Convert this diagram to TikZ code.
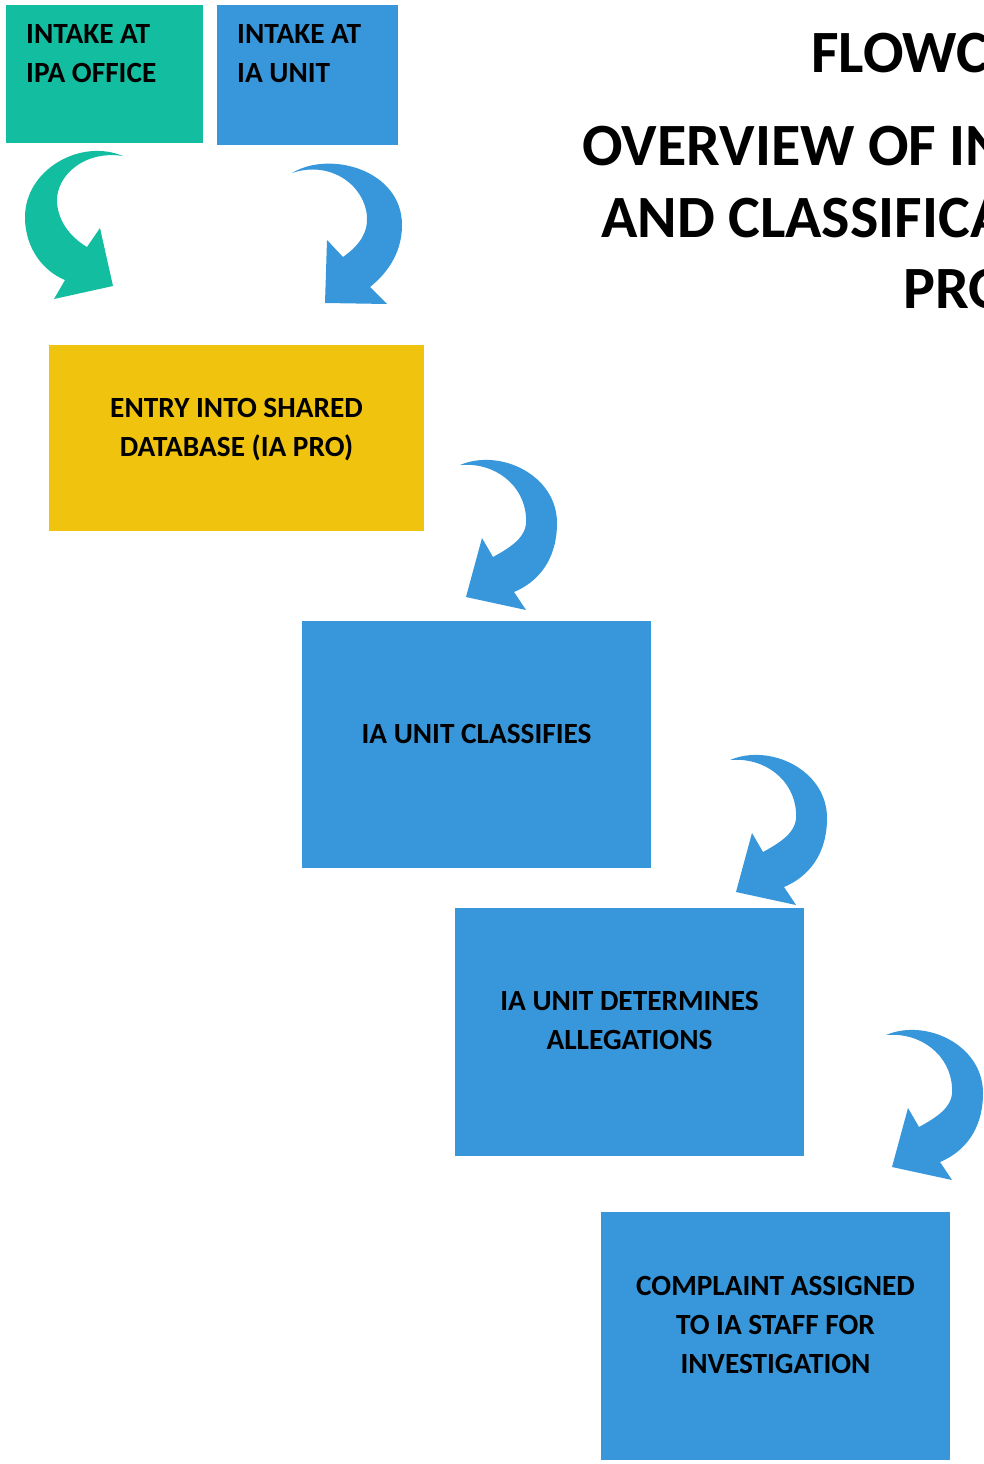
\documentclass[tikz,border=0pt]{standalone}
\usepackage{fontspec}
\setmainfont{Carlito}
\definecolor{iateal}{RGB}{18,189,160}
\definecolor{iablue}{RGB}{55,151,218}
\definecolor{iayellow}{RGB}{240,195,15}
\tikzset{
  box/.style={rectangle, inner sep=0pt, draw=none},
  boxtext/.style={inner sep=0pt, font=\fontsize{29.3}{38.6}\selectfont\bfseries, text=black},
  titletext/.style={inner sep=0pt, anchor=base west, font=\fontsize{60}{72}\selectfont\bfseries, text=black},
  curlarrow/.pic={
    \fill[iablue] (0,5) .. controls (40,-12) and (97,15) .. (97,63)
      .. controls (97,100) and (78,122) .. (54,132) -- (66,150) -- (6,137)
      -- (22,78) -- (33,97) .. controls (55,85) and (68,75) .. (66,57)
      .. controls (64,25) and (35,2) .. cycle;
  }
}
\begin{document}
\begin{tikzpicture}[x=1pt,y=-1pt]
\useasboundingbox (0,0) rectangle (984,1464);
\clip (0,0) rectangle (984,1464);
% boxes
\fill[iateal] (6,5) rectangle (203,143);
\node[box, minimum width=197pt, minimum height=138pt] (ipa) at (104.5,74) {};
\fill[iablue] (217,5) rectangle (398,145);
\node[box, minimum width=181pt, minimum height=140pt] (iaunit) at (307.5,75) {};
\fill[iayellow] (49,345) rectangle (424,531);
\node[box, minimum width=375pt, minimum height=186pt] (entry) at (236.5,438) {};
\fill[iablue] (302,621) rectangle (651,868);
\node[box, minimum width=349pt, minimum height=247pt] (classify) at (476.5,744.5) {};
\fill[iablue] (455,908) rectangle (804,1156);
\node[box, minimum width=349pt, minimum height=248pt] (determine) at (629.5,1032) {};
\fill[iablue] (601,1212) rectangle (950,1460);
\node[box, minimum width=349pt, minimum height=248pt] (assign) at (775.5,1336) {};
% texts
\node[boxtext, anchor=north west, align=left] (ipatext) at (26,24.5) {INTAKE AT\\IPA OFFICE};
\node[boxtext, anchor=north west, align=left] (iaunittext) at (237,24.5) {INTAKE AT\\IA UNIT};
\node[boxtext, anchor=north, align=center] (entrytext) at (236.5,398.5) {ENTRY INTO SHARED\\DATABASE (IA PRO)};
\node[boxtext, anchor=north, align=center] (classifytext) at (476.5,724.5) {IA UNIT CLASSIFIES};
\node[boxtext, anchor=north, align=center] (determinetext) at (629.5,991.5) {IA UNIT DETERMINES\\ALLEGATIONS};
\node[boxtext, anchor=north, align=center] (assigntext) at (775.5,1276.5) {COMPLAINT ASSIGNED\\TO IA STAFF FOR\\INVESTIGATION};
% title (cut at right edge, as in the reference)
\node[titletext] (t1) at (811,72) {FLOWC};
\node[titletext] (t2) at (582,165) {OVERVIEW OF IN};
\node[titletext] (t3) at (601,237) {AND CLASSIFICA};
\node[titletext] (t4) at (903,308) {PRO};
% curved arrows
\fill[iateal] (123,156) .. controls (80,138) and (25,170) .. (25,217)
  .. controls (25,250) and (45,272) .. (65,280) -- (54,299) -- (113,286)
  -- (100,228) -- (87,247) .. controls (70,237) and (57,220) .. (57,200)
  .. controls (57,175) and (85,150) .. cycle;
\fill[iablue] (292,173) .. controls (330,150) and (402,170) .. (402,225)
  .. controls (402,255) and (385,275) .. (370,287) -- (387,304) -- (325,303)
  -- (327,240) -- (343,257) .. controls (360,245) and (368,232) .. (367,217)
  .. controls (365,185) and (330,160) .. cycle;
\pic at (460,460) {curlarrow};
\pic at (730,755) {curlarrow};
\pic at (886,1030) {curlarrow};
\end{tikzpicture}
\end{document}
